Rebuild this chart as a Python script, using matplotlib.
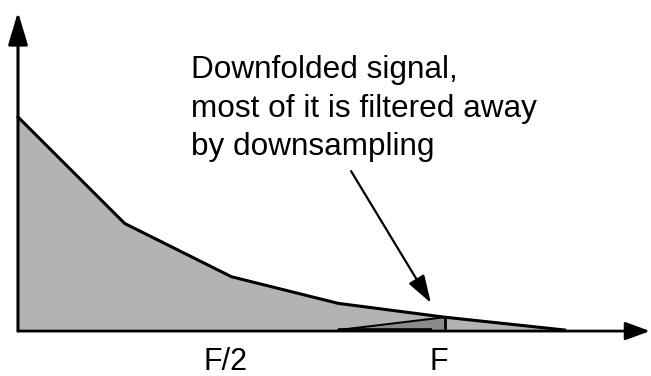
import matplotlib
matplotlib.use("Agg")
import matplotlib.pyplot as plt

# Spectrum (frequency normalised to F, magnitude normalised to DC)
freq = [0.0, 0.25, 0.5, 0.75, 1.0, 1.28]
mag = [1.0, 0.5, 0.25, 0.125, 0.06, 0.0]

# Downfolded part (triangle near F)
fold_freq = [0.75, 1.0, 1.0]
fold_mag = [0.0, 0.06, 0.0]
fold_base = [0.75, 0.97]

tick_pos = [0.486, 0.986]
tick_labels = ["F/2", "F"]

note = "Downfolded signal,\nmost of it is filtered away\nby downsampling"

plt.rcParams['font.family'] = ['Liberation Sans', 'DejaVu Sans']

W, H = 651, 376
fig = plt.figure(figsize=(W / 100, H / 100), dpi=100)
ax = fig.add_axes([0, 0, 1, 1])
ox, oy, sx, sy = 18, 330, 427, 213
ax.set_xlim(-ox / sx, (W - ox) / sx)
ax.set_ylim((oy - H) / sy, oy / sy)
ax.axis('off')

# main spectrum
ax.fill_between(freq, mag, 0, color='#b3b3b3', lw=0, zorder=1)
ax.plot(freq, mag, color='black', lw=2.2, solid_joinstyle='round', zorder=3)

# downfolded triangle
ax.fill(fold_freq, fold_mag, color='#8a8a8a', lw=0, zorder=2)
ax.plot(fold_freq[:2], fold_mag[:2], color='black', lw=1.4, zorder=3)
ax.plot([fold_freq[1], fold_freq[2]], [fold_mag[1], fold_mag[2]], color='black', lw=2.0, zorder=3)
ax.plot(fold_base, [0, 0], color='black', lw=2.6, zorder=3, solid_capstyle='butt')

# axes arrows
ax.annotate('', xy=(0, (oy - 12) / sy), xytext=(0, -0.005),
            arrowprops=dict(arrowstyle='-|>,head_length=2.0,head_width=0.6', lw=2.2,
                            color='black', shrinkA=0, shrinkB=0, mutation_scale=10), zorder=4)
ax.annotate('', xy=((650 - ox) / sx, -0.005), xytext=(0, -0.005),
            arrowprops=dict(arrowstyle='-|>,head_length=1.5,head_width=0.55', lw=2.0,
                            color='black', shrinkA=0, shrinkB=0, mutation_scale=10), zorder=4)

# annotation arrow
ax.annotate('', xy=(0.967, 0.127), xytext=(0.78, 0.746),
            arrowprops=dict(arrowstyle='-|>,head_length=1.7,head_width=0.55', lw=1.6,
                            color='black', shrinkA=0, shrinkB=0, mutation_scale=10), zorder=4)

ax.text(0.405, 1.29, note, fontsize=22.7, va='top', ha='left', linespacing=1.36)

for p, lab in zip(tick_pos, tick_labels):
    ax.text(p, -0.19, lab, fontsize=22, ha='center', va='baseline')

fig.savefig('out.png', dpi=100)
